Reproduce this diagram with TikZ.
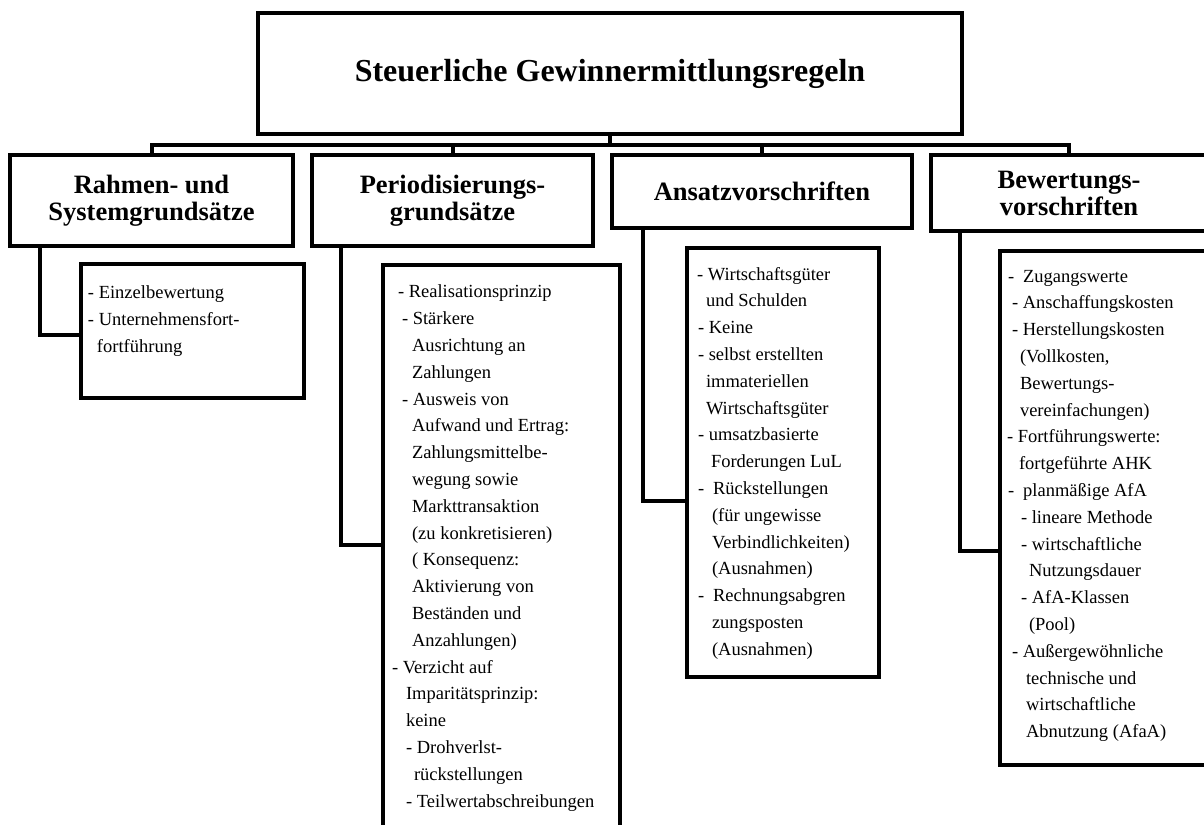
\documentclass[tikz,border=0pt]{standalone}
\usepackage{fontspec}
\setmainfont{Liberation Serif}
\usepackage{tikz}
\usetikzlibrary{positioning}
\tikzstyle{rootbox}=[rectangle, draw=black, line width=4bp, outer sep=0pt, minimum width=704bp, minimum height=121bp, font=\fontsize{32bp}{36bp}\selectfont\bfseries]
\tikzstyle{headbox}=[rectangle, draw=black, line width=4bp, outer sep=0pt, inner sep=0pt, align=center, font=\fontsize{26.5bp}{27bp}\selectfont\bfseries]
\tikzstyle{listbox}=[rectangle, draw=black, line width=4bp, outer sep=0pt, inner sep=0pt]
\tikzstyle{listtext}=[inner sep=0pt, outer sep=0pt, align=left, font=\fontsize{18.5bp}{26.8bp}\selectfont]
\tikzstyle{link}=[line width=4bp]

\begin{document}
\begin{tikzpicture}[x=1bp, y=-1bp]
		\useasboundingbox(0,0) rectangle (1204,825);
		\clip(0,0) rectangle (1204,825);
		
		\node(n1)[rootbox] at (610,73.5){Steuerliche Gewinnermittlungsregeln};
		
		
		\node(n1-1)[headbox, minimum width=283bp, minimum height=91bp] at (151.5,200.5){Rahmen- und\\Systemgrundsätze};
		
		\node(n1-2)[headbox, minimum width=281bp, minimum height=91bp] at (452.5,200.5){Periodisierungs-\\grundsätze};
		
		\node(n1-3)[headbox, minimum width=300bp, minimum height=73bp] at (762,191.5){Ansatzvorschriften};
		
		\node(n1-4)[headbox, minimum width=276bp, minimum height=76bp] at (1069,193){Bewertungs-\\vorschriften};
		
		
		\node(n1-1-1)[listbox, minimum width=223bp, minimum height=134bp, below right=18bp and 71bp of n1-1.south west]{};
		\node(t1)[listtext, below right=22bp and 7bp of n1-1-1.north west]{- Einzelbewertung\\
		- Unternehmensfort-\\
		\hspace*{9bp}fortführung};
		
		
		\node(n1-2-1)[listbox, minimum width=237bp, minimum height=570bp, below right=19bp and 71bp of n1-2.south west]{};
		\node(t2)[listtext, below right=20bp and 9bp of n1-2-1.north west]{\hspace*{6bp}- Realisationsprinzip\\
		\hspace*{10bp}- Stärkere\\
		\hspace*{20bp}Ausrichtung an\\
		\hspace*{20bp}Zahlungen\\
		\hspace*{10bp}- Ausweis von\\
		\hspace*{20bp}Aufwand und Ertrag:\\
		\hspace*{20bp}Zahlungsmittelbe-\\
		\hspace*{20bp}wegung sowie\\
		\hspace*{20bp}Markttransaktion\\
		\hspace*{20bp}(zu konkretisieren)\\
		\hspace*{20bp}( Konsequenz:\\
		\hspace*{20bp}Aktivierung von\\
		\hspace*{20bp}Beständen und\\
		\hspace*{20bp}Anzahlungen)\\
		- Verzicht auf\\
		\hspace*{14bp}Imparitätsprinzip:\\
		\hspace*{14bp}keine\\
		\hspace*{14bp}- Drohverlst-\\
		\hspace*{22bp}rückstellungen\\
		\hspace*{14bp}- Teilwertabschreibungen};
		
		
		\node(n1-3-1)[listbox, minimum width=192bp, minimum height=429bp, below right=20bp and 75bp of n1-3.south west]{};
		\node(t3)[listtext, below right=19bp and 10bp of n1-3-1.north west]{- Wirtschaftsgüter\\
		\hspace*{9bp}und Schulden\\
		\hspace*{1bp}- Keine\\
		\hspace*{1bp}- selbst erstellten\\
		\hspace*{9bp}immateriellen\\
		\hspace*{9bp}Wirtschaftsgüter\\
		\hspace*{1bp}- umsatzbasierte\\
		\hspace*{14bp}Forderungen LuL\\
		\hspace*{1bp}-\hspace{9bp}Rückstellungen\\
		\hspace*{15bp}(für ungewisse\\
		\hspace*{15bp}Verbindlichkeiten)\\
		\hspace*{15bp}(Ausnahmen)\\
		\hspace*{1bp}-\hspace{9bp}Rechnungsabgren\\
		\hspace*{15bp}zungsposten\\
		\hspace*{15bp}(Ausnahmen)};
		
		
		\node(n1-4-1)[listbox, minimum width=207bp, minimum height=514bp, below right=20bp and 69bp of n1-4.south west]{};
		\node(t4)[listtext, below right=19bp and 7bp of n1-4-1.north west]{\hspace*{1bp}-\hspace{9bp}Zugangswerte\\
		\hspace*{5bp}- Anschaffungskosten\\
		\hspace*{5bp}- Herstellungskosten\\
		\hspace*{13bp}(Vollkosten,\\
		\hspace*{13bp}Bewertungs-\\
		\hspace*{13bp}vereinfachungen)\\
		- Fortführungswerte:\\
		\hspace*{12bp}fortgeführte AHK\\
		\hspace*{1bp}-\hspace{9bp}planmäßige AfA\\
		\hspace*{14bp}- lineare Methode\\
		\hspace*{14bp}- wirtschaftliche\\
		\hspace*{22bp}Nutzungsdauer\\
		\hspace*{14bp}- AfA-Klassen\\
		\hspace*{22bp}(Pool)\\
		\hspace*{5bp}- Außergewöhnliche\\
		\hspace*{19bp}technische und\\
		\hspace*{19bp}wirtschaftliche\\
		\hspace*{19bp}Abnutzung (AfaA)};
		
		
		\draw[link](n1.south)--++(0,11);
		\draw[link](n1-1.north)--++(0,-10)-|(n1-4.north);
		\draw[link](n1-2.north)--++(0,-10);
		\draw[link](n1-3.north)--++(0,-10);
		\draw[link]([xshift=30bp]n1-1.south west)|-([yshift=-71bp]n1-1-1.north west);
		\draw[link]([xshift=29bp]n1-2.south west)|-([yshift=-280bp]n1-2-1.north west);
		\draw[link]([xshift=31bp]n1-3.south west)|-([yshift=-253bp]n1-3-1.north west);
		\draw[link]([xshift=29bp]n1-4.south west)|-([yshift=-300bp]n1-4-1.north west);
		
	\end{tikzpicture}
\end{document}
